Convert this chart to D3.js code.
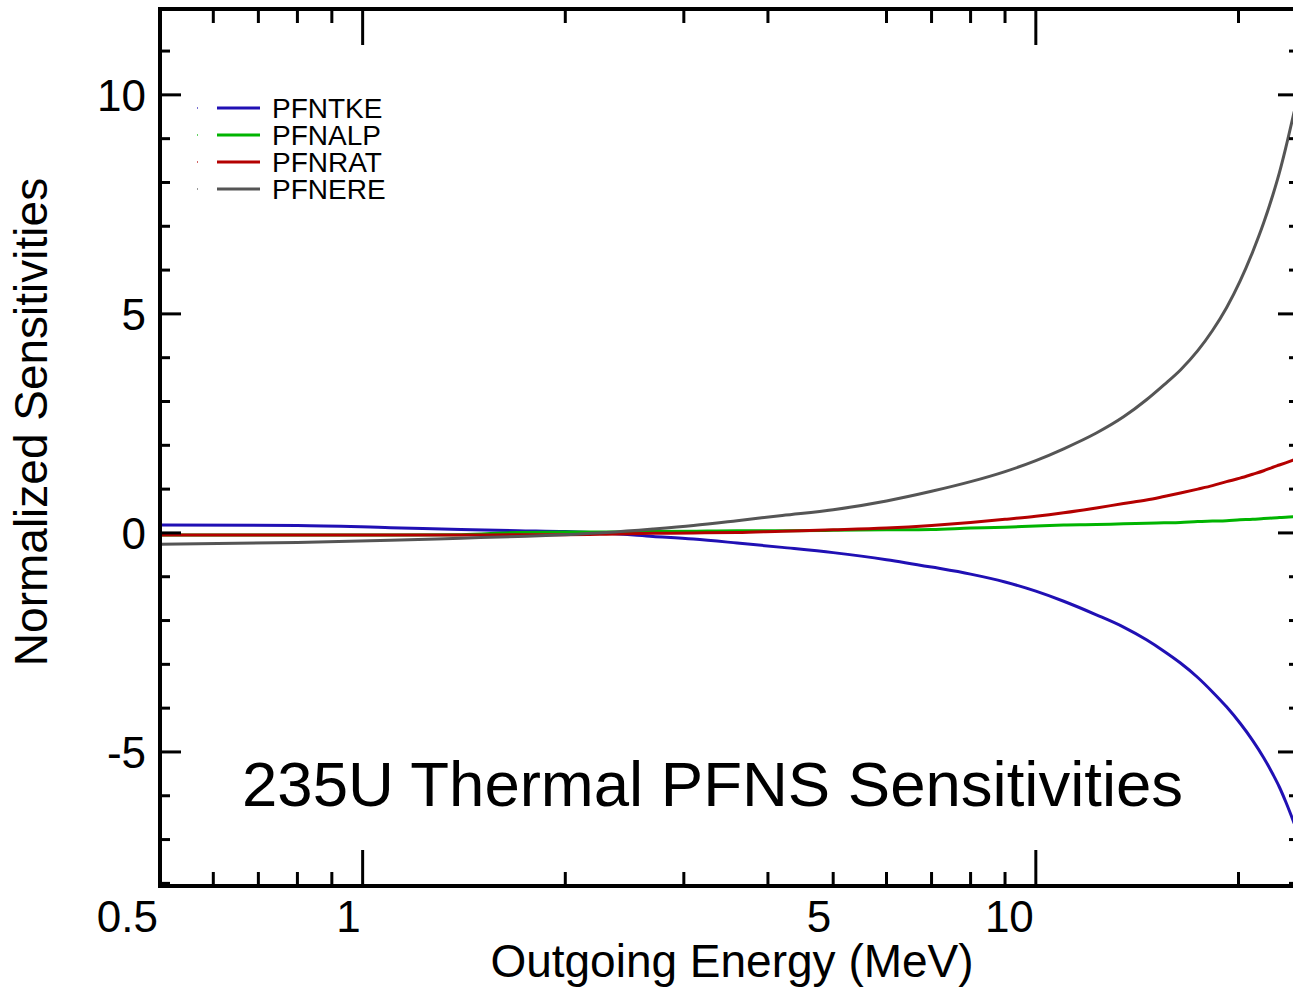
<!DOCTYPE html>
<html>
<head>
<meta charset="utf-8">
<script src="https://cdn.jsdelivr.net/npm/d3@7"></script>
<style>
  body { margin: 0; background: #fff; }
  svg { display: block; }
  text { font-family: "Liberation Sans", Arial, Helvetica, sans-serif; fill: #000; }
</style>
</head>
<body>
<script>
// Canvas size
var W = 1293;
var H = 987;

// Outgoing energy grid (MeV) shared by all series
var energies = [0.5, 0.8, 1.1, 1.4, 1.7, 2.0, 2.3, 2.7, 3.1, 3.6, 4.2, 5.0, 6.0, 7.0, 8.0, 9.0,
  10, 11, 12.3, 13.5, 14.6, 15.5, 16.4, 17.4, 18.3, 19.2, 20.1, 21, 21.8, 22.5, 23, 23.5, 24.2];

// Normalized sensitivities
var pfntke = [0.18, 0.17, 0.12, 0.08, 0.05, 0.03, -0.01, -0.08, -0.14, -0.23, -0.33, -0.45, -0.61, -0.78, -0.94, -1.12,
  -1.33, -1.56, -1.87, -2.15, -2.44, -2.70, -2.97, -3.30, -3.63, -3.97, -4.34, -4.74, -5.13, -5.51, -5.80, -6.13, -6.63];
var pfnalp = [-0.05, -0.05, -0.05, -0.04, 0.01, 0.02, 0.02, 0.03, 0.04, 0.05, 0.05, 0.06, 0.07, 0.08, 0.11, 0.13,
  0.16, 0.18, 0.19, 0.21, 0.22, 0.23, 0.24, 0.26, 0.27, 0.28, 0.30, 0.31, 0.33, 0.34, 0.35, 0.36, 0.37];
var pfnrat = [-0.05, -0.05, -0.05, -0.05, -0.04, -0.04, -0.03, -0.01, 0.0, 0.01, 0.04, 0.07, 0.11, 0.17, 0.24, 0.31,
  0.38, 0.46, 0.57, 0.67, 0.75, 0.83, 0.91, 1.00, 1.08, 1.17, 1.25, 1.34, 1.42, 1.50, 1.55, 1.60, 1.67];
var pfnere = [-0.26, -0.22, -0.17, -0.12, -0.08, -0.04, 0.01, 0.09, 0.17, 0.28, 0.40, 0.53, 0.73, 0.95, 1.17, 1.40,
  1.65, 1.92, 2.28, 2.65, 3.04, 3.38, 3.72, 4.16, 4.62, 5.14, 5.74, 6.42, 7.08, 7.72, 8.22, 8.78, 9.62];

var seriesNames = ["PFNTKE", "PFNALP", "PFNRAT", "PFNERE"];
var seriesColors = ["#2010b4", "#00b400", "#b40000", "#555555"];

// Tick values
var xMinorTicks = [0.6, 0.7, 0.8, 0.9, 2, 3, 4, 6, 7, 8, 9, 20];
var xTopMajor = [1, 10];
var xBottomMajor = [1, 5, 10];
var xLabels = [0.5, 1, 5, 10];
var yMajorTicks = [-5, 0, 5, 10];
var yMinorTicks = [-8, -7, -6, -4, -3, -2, -1, 1, 2, 3, 4, 6, 7, 8, 9, 11];

function main() {
  var svg = d3.select("body").append("svg")
    .attr("width", W)
    .attr("height", H);

  var left = 160, right = 1299, top = 9, bottom = 886;

  var xScale = d3.scaleLog().domain([0.5, 24.6]).range([left, right]);
  var yScale = d3.scaleLinear().domain([-8.06, 11.96]).range([bottom, top]);

  // Curves
  var allSeries = [pfntke, pfnalp, pfnrat, pfnere];
  var line = d3.line()
    .x(function(d, i) { return xScale(energies[i]); })
    .y(function(d) { return yScale(d); })
    .curve(d3.curveMonotoneX);

  svg.append("clipPath").attr("id", "plotclip")
    .append("rect").attr("x", left).attr("y", top).attr("width", right - left).attr("height", bottom - top);

  svg.append("g").attr("clip-path", "url(#plotclip)")
    .selectAll("path")
    .data(allSeries)
    .enter()
    .append("path")
    .attr("d", function(d) { return line(d); })
    .attr("fill", "none")
    .attr("stroke", function(d, i) { return seriesColors[i]; })
    .attr("stroke-width", 3);

  // Frame
  svg.append("rect")
    .attr("x", left).attr("y", top)
    .attr("width", right - left).attr("height", bottom - top)
    .attr("fill", "none").attr("stroke", "#000").attr("stroke-width", 4);

  var ticks = svg.append("g").attr("stroke", "#000").attr("stroke-width", 3);

  // x ticks, top and bottom
  xMinorTicks.forEach(function(v) {
    var x = xScale(v);
    ticks.append("line").attr("x1", x).attr("x2", x).attr("y1", top).attr("y2", top + 14);
    ticks.append("line").attr("x1", x).attr("x2", x).attr("y1", bottom).attr("y2", bottom - 14);
  });
  xTopMajor.forEach(function(v) {
    var x = xScale(v);
    ticks.append("line").attr("x1", x).attr("x2", x).attr("y1", top).attr("y2", top + 36);
  });
  xBottomMajor.forEach(function(v) {
    var x = xScale(v);
    var len = v == 5 ? 14 : 36;
    ticks.append("line").attr("x1", x).attr("x2", x).attr("y1", bottom).attr("y2", bottom - len);
  });

  // y ticks, left and right
  yMinorTicks.forEach(function(v) {
    var y = yScale(v);
    ticks.append("line").attr("x1", left).attr("x2", left + 10).attr("y1", y).attr("y2", y);
    ticks.append("line").attr("x1", right).attr("x2", right - 10).attr("y1", y).attr("y2", y);
  });
  yMajorTicks.forEach(function(v) {
    var y = yScale(v);
    ticks.append("line").attr("x1", left).attr("x2", left + 21).attr("y1", y).attr("y2", y);
    ticks.append("line").attr("x1", right).attr("x2", right - 21).attr("y1", y).attr("y2", y);
  });

  // Tick labels
  svg.selectAll(".xlab")
    .data(xLabels)
    .enter()
    .append("text")
    .attr("class", "xlab")
    .attr("x", function(d) { return xScale(d) - 2; })
    .attr("y", 932)
    .attr("text-anchor", "end")
    .style("font-size", "44px")
    .text(function(d) { return d; });

  svg.selectAll(".ylab")
    .data(yMajorTicks)
    .enter()
    .append("text")
    .attr("class", "ylab")
    .attr("x", 146)
    .attr("y", function(d) { return yScale(d) + 16; })
    .attr("text-anchor", "end")
    .style("font-size", "44px")
    .text(function(d) { return d; });

  // Axis titles
  svg.append("text")
    .attr("x", 732).attr("y", 977)
    .attr("text-anchor", "middle")
    .style("font-size", "46px")
    .text("Outgoing Energy (MeV)");

  svg.append("text")
    .attr("transform", "translate(47,422) rotate(-90)")
    .attr("text-anchor", "middle")
    .style("font-size", "46px")
    .text("Normalized Sensitivities");

  // Title inside the plot
  svg.append("text")
    .attr("x", 242).attr("y", 806)
    .style("font-size", "63.5px")
    .text("235U Thermal PFNS Sensitivities");

  // Legend
  var legend = svg.append("g");
  seriesNames.forEach(function(name, i) {
    var y = 108 + i * 27;
    legend.append("rect").attr("x", 197).attr("y", y - 1).attr("width", 1).attr("height", 2)
      .attr("fill", seriesColors[i]).attr("opacity", 0.6);
    legend.append("line").attr("x1", 217).attr("x2", 260).attr("y1", y).attr("y2", y)
      .attr("stroke", seriesColors[i]).attr("stroke-width", 3);
    legend.append("text").attr("x", 272).attr("y", y + 10)
      .style("font-size", "28px")
      .text(name);
  });
}

main();
</script>
</body>
</html>
